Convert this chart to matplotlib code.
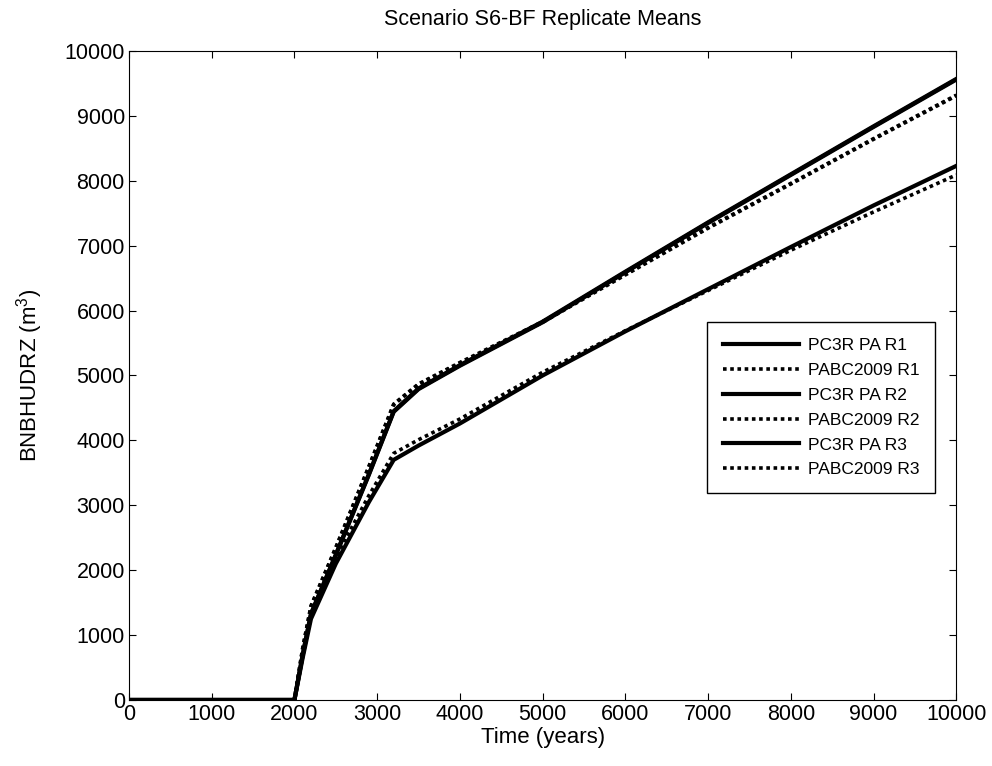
import matplotlib
matplotlib.use("Agg")
import matplotlib.pyplot as plt

plt.rcParams['font.family'] = ['Liberation Sans', 'DejaVu Sans']
plt.rcParams['mathtext.fontset'] = 'custom'
plt.rcParams['mathtext.rm'] = 'Liberation Sans'

time = [0, 2000, 2100, 2200, 2500, 2900, 3200, 3500, 4000, 5000, 6000, 7000, 8000, 9000, 10000]
pc3r_r1 = [0, 0, 700, 1330, 2240, 3480, 4450, 4800, 5160, 5830, 6600, 7360, 8100, 8840, 9570]
pabc_r1 = [0, 0, 800, 1450, 2350, 3600, 4560, 4870, 5200, 5830, 6560, 7280, 7960, 8650, 9320]
pc3r_r2 = [0, 0, 650, 1250, 2100, 3050, 3700, 3920, 4260, 5000, 5680, 6330, 6980, 7620, 8230]
pabc_r2 = [0, 0, 720, 1330, 2200, 3150, 3800, 4010, 4330, 5050, 5690, 6310, 6930, 7520, 8090]
pc3r_r3 = [0, 0, 690, 1320, 2230, 3470, 4440, 4790, 5150, 5820, 6590, 7350, 8090, 8830, 9560]
pabc_r3 = [0, 0, 790, 1440, 2340, 3590, 4550, 4860, 5190, 5820, 6550, 7270, 7950, 8640, 9310]

labels = ["PC3R PA R1", "PABC2009 R1", "PC3R PA R2", "PABC2009 R2", "PC3R PA R3", "PABC2009 R3"]
values = [pc3r_r1, pabc_r1, pc3r_r2, pabc_r2, pc3r_r3, pabc_r3]

fig = plt.figure(figsize=(9.92, 7.66), dpi=100)
ax = fig.add_axes([0.130, 0.0862, 0.834, 0.8472])
for i, (name, vals) in enumerate(zip(labels, values)):
    if i % 2 == 0:
        ax.plot(time, vals, color='black', linestyle='-', linewidth=3.0, label=name)
    else:
        ax.plot(time, vals, color='black', linestyle=(0, (1, 1.0)), linewidth=2.6, label=name)

ax.set_xlim(0, 10000)
ax.set_ylim(0, 10000)
ax.set_xticks(range(0, 10001, 1000))
ax.set_yticks(range(0, 10001, 1000))
ax.tick_params(direction='in', top=True, right=True, labelsize=15.5, length=5, pad=3)
ax.set_title("Scenario S6-BF Replicate Means", fontsize=15.5, pad=19)
ax.set_xlabel("Time (years)", fontsize=16, labelpad=1)
ax.set_ylabel("BNBHUDRZ (m$^3$)", fontsize=16, labelpad=14)

leg = ax.legend(loc='upper left', bbox_to_anchor=(0.699, 0.582), fontsize=12.5,
                frameon=True, fancybox=False, edgecolor='black', framealpha=1,
                handlelength=4.4, handletextpad=0.5, borderpad=0.9,
                labelspacing=0.56, borderaxespad=0)
leg.get_frame().set_linewidth(1)

fig.savefig("out.png", dpi=100)
